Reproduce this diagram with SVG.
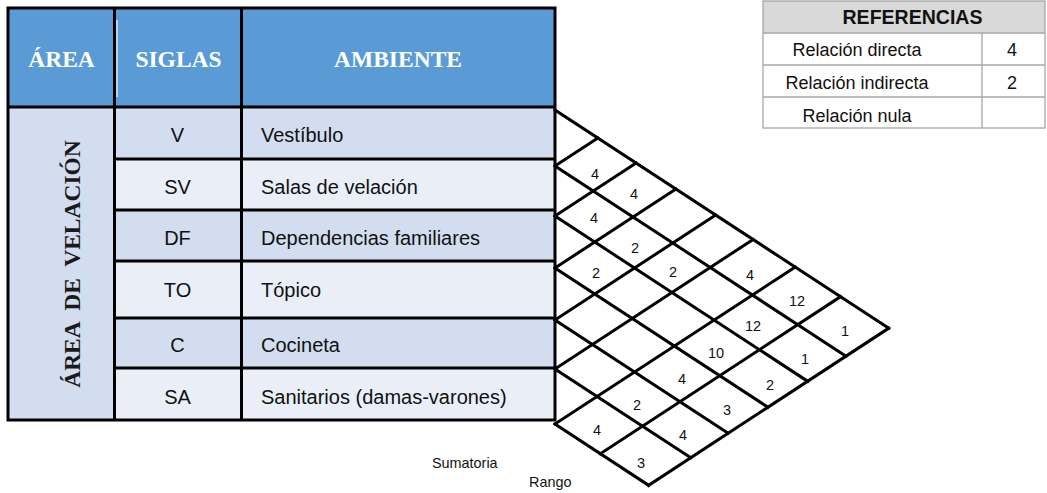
<svg xmlns="http://www.w3.org/2000/svg" width="1047" height="493" viewBox="0 0 1047 493">
<style>
.hdr{fill:#5B9BD5}
.dk{fill:#D2DEEF}
.lt{fill:#EAEFF7}
.bd{stroke:#000;stroke-width:3;fill:none}
.ht{font-family:"Liberation Serif","Times New Roman",serif;font-weight:bold;font-size:23.5px;fill:#fff;text-anchor:middle}
.vt{font-family:"Liberation Serif","Times New Roman",serif;font-weight:bold;font-size:23.5px;fill:#1a1a1a;text-anchor:middle;white-space:pre}
.ct{font-family:"Liberation Sans",Arial,sans-serif;font-size:20px;fill:#111;text-anchor:middle}
.lt2{font-family:"Liberation Sans",Arial,sans-serif;font-size:20px;fill:#111}
.mx{stroke:#000;stroke-width:3;stroke-linecap:square;fill:none}
.num{font-family:"Liberation Sans",Arial,sans-serif;font-size:14.5px;fill:#111;text-anchor:middle}
.rf{font-family:"Liberation Sans",Arial,sans-serif;font-size:18px;fill:#111;text-anchor:middle}
.rfh{font-family:"Liberation Sans",Arial,sans-serif;font-size:21px;font-weight:bold;fill:#111;text-anchor:middle}
.gl{stroke:#A6A6A6;stroke-width:1.3;fill:none}
.sm{font-family:"Liberation Sans",Arial,sans-serif;font-size:14.4px;fill:#111}
</style>

<g id="table-header">
<rect class="hdr" x="8" y="8" width="547" height="99"/>
<line x1="117" y1="20" x2="117" y2="97" stroke="#fff" stroke-width="1.2"/>
<text class="ht" x="61.5" y="67">ÁREA</text>
<text class="ht" x="178.5" y="67">SIGLAS</text>
<text class="ht" x="398" y="67">AMBIENTE</text>
</g>

<g id="area-velacion">
<rect class="dk" x="8" y="107" width="106.5" height="313"/>
<text class="vt" xml:space="preserve" transform="translate(80,264) rotate(-90)">ÁREA  DE  VELACIÓN</text>
</g>

<g id="row-V">
<rect class="dk" x="114.5" y="107" width="440.5" height="52"/>
<text class="ct" x="177.5" y="142">V</text>
<text class="lt2" x="261" y="142">Vestíbulo</text>
</g>
<g id="row-SV">
<rect class="lt" x="114.5" y="159" width="440.5" height="51"/>
<text class="ct" x="177.5" y="194">SV</text>
<text class="lt2" x="261" y="194">Salas de velación</text>
</g>
<g id="row-DF">
<rect class="dk" x="114.5" y="210" width="440.5" height="51"/>
<text class="ct" x="177.5" y="245">DF</text>
<text class="lt2" x="261" y="245">Dependencias familiares</text>
</g>
<g id="row-TO">
<rect class="lt" x="114.5" y="261" width="440.5" height="57"/>
<text class="ct" x="177.5" y="296.5">TO</text>
<text class="lt2" x="261" y="296.5">Tópico</text>
</g>
<g id="row-C">
<rect class="dk" x="114.5" y="318" width="440.5" height="50"/>
<text class="ct" x="177.5" y="352">C</text>
<text class="lt2" x="261" y="352">Cocineta</text>
</g>
<g id="row-SA">
<rect class="lt" x="114.5" y="368" width="440.5" height="52"/>
<text class="ct" x="177.5" y="404">SA</text>
<text class="lt2" x="261" y="404">Sanitarios (damas-varones)</text>
</g>

<g id="table-grid">
<rect class="bd" x="8" y="8" width="547" height="412"/>
<line class="bd" x1="8" y1="107" x2="555" y2="107"/>
<line class="bd" x1="114.5" y1="8" x2="114.5" y2="420"/>
<line class="bd" x1="241.5" y1="8" x2="241.5" y2="420"/>
<line class="bd" x1="114.5" y1="159" x2="555" y2="159"/>
<line class="bd" x1="114.5" y1="210" x2="555" y2="210"/>
<line class="bd" x1="114.5" y1="261" x2="555" y2="261"/>
<line class="bd" x1="114.5" y1="318" x2="555" y2="318"/>
<line class="bd" x1="114.5" y1="368" x2="555" y2="368"/>
</g>

<g id="connectors">
<line class="mx" x1="555" y1="110" x2="888.7" y2="328.2"/>
<line class="mx" x1="555" y1="166" x2="845.9" y2="356.2"/>
<line class="mx" x1="555" y1="216" x2="807.7" y2="381.3"/>
<line class="mx" x1="555" y1="268" x2="767.9" y2="407.2"/>
<line class="mx" x1="555" y1="320" x2="728.1" y2="433.2"/>
<line class="mx" x1="555" y1="369" x2="690.7" y2="457.7"/>
<line class="mx" x1="555" y1="424" x2="648.6" y2="485.3"/>
<line class="mx" x1="555" y1="166" x2="597.8" y2="138"/>
<line class="mx" x1="555" y1="216" x2="636" y2="163"/>
<line class="mx" x1="555" y1="268" x2="675.8" y2="189"/>
<line class="mx" x1="555" y1="320" x2="715.6" y2="215"/>
<line class="mx" x1="555" y1="369" x2="753" y2="239.5"/>
<line class="mx" x1="555" y1="424" x2="795.2" y2="267.1"/>
<line class="mx" x1="600.4" y1="453.7" x2="840.5" y2="296.7"/>
<line class="mx" x1="648.6" y1="485.3" x2="888.7" y2="328.2"/>
</g>

<g id="matrix-values">
<text class="num" x="595" y="179">4</text>
<text class="num" x="634" y="199">4</text>
<text class="num" x="594" y="223">4</text>
<text class="num" x="635" y="253">2</text>
<text class="num" x="596" y="278">2</text>
<text class="num" x="673" y="277">2</text>
<text class="num" x="750" y="280">4</text>
<text class="num" x="797" y="306">12</text>
<text class="num" x="753" y="331">12</text>
<text class="num" x="845" y="336">1</text>
<text class="num" x="716" y="358">10</text>
<text class="num" x="805" y="364">1</text>
<text class="num" x="682" y="384">4</text>
<text class="num" x="770" y="390">2</text>
<text class="num" x="637" y="410">2</text>
<text class="num" x="727" y="415">3</text>
<text class="num" x="597" y="435">4</text>
<text class="num" x="683" y="440">4</text>
<text class="num" x="641" y="468">3</text>
</g>

<g id="label-sumatoria">
<text class="sm" x="432" y="468">Sumatoria</text>
</g>
<g id="label-rango">
<text class="sm" x="529" y="486.5">Rango</text>
</g>

<g id="referencias">
<rect x="763" y="1" width="282" height="32" fill="#D9D9D9"/>
<rect x="763" y="33" width="282" height="95" fill="#fff"/>
<rect class="gl" x="763" y="1" width="282" height="127"/>
<line class="gl" x1="763" y1="33" x2="1045" y2="33"/>
<line class="gl" x1="763" y1="65" x2="1045" y2="65"/>
<line class="gl" x1="763" y1="97" x2="1045" y2="97"/>
<line class="gl" x1="982" y1="33" x2="982" y2="128"/>
<text class="rfh" x="912.5" y="24" textLength="140" lengthAdjust="spacingAndGlyphs">REFERENCIAS</text>
<text class="rf" x="857" y="56">Relación directa</text>
<text class="rf" x="1012" y="56">4</text>
<text class="rf" x="857" y="89">Relación indirecta</text>
<text class="rf" x="1012" y="89">2</text>
<text class="rf" x="857" y="121.5">Relación nula</text>
</g>
</svg>
